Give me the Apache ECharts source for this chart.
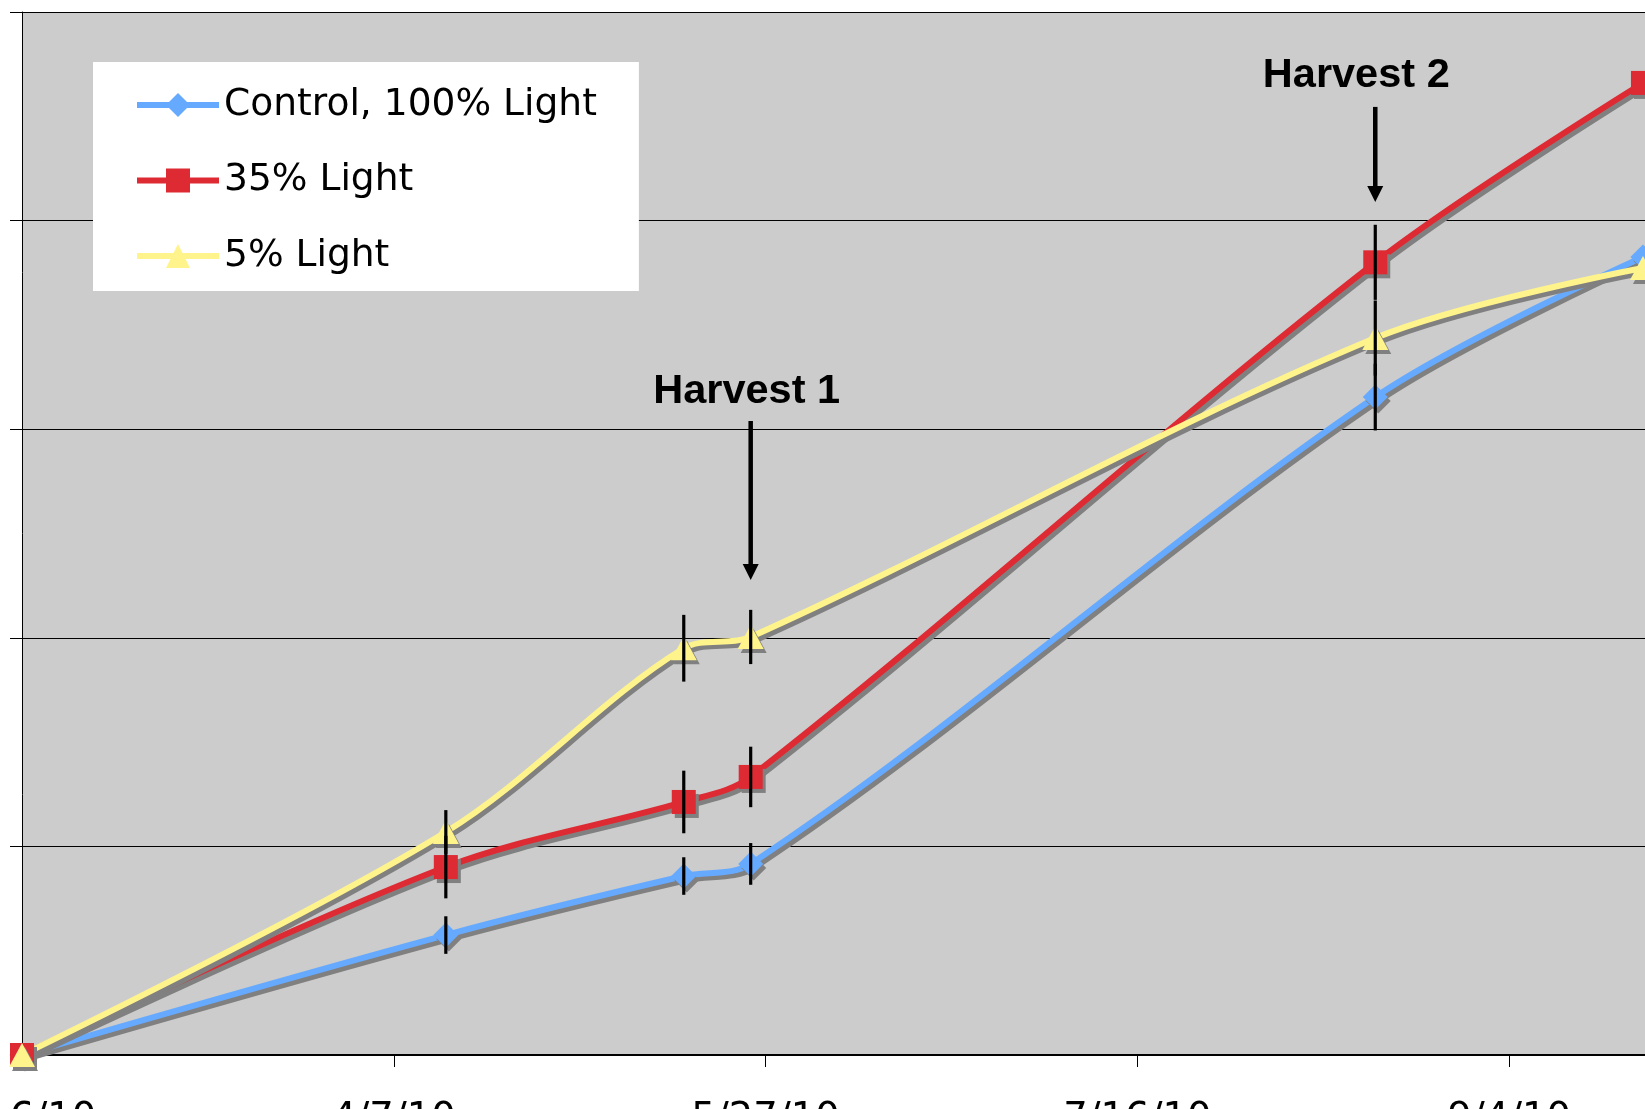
<!DOCTYPE html>
<html>
<head>
<meta charset="utf-8">
<script src="https://cdn.jsdelivr.net/npm/echarts@6/dist/echarts.min.js"></script>
<style>
  html, body { margin: 0; padding: 0; background: #ffffff; }
  #chart { width: 1645px; height: 1109px; }
</style>
</head>
<body>
<div id="chart"></div>
<script>
// ---- data ----
const startDate = '2010-02-16';
const sampleDates = ['2010-02-16', '2010-04-14', '2010-05-16', '2010-05-25', '2010-08-17', '2010-09-22'];
const seriesNames = ['Control, 100% Light', '35% Light', '5% Light'];
const controlValues = [0, 0.575, 0.858, 0.916, 3.154, 3.826];
const light35Values = [0, 0.901, 1.213, 1.333, 3.800, 4.660];
const light5Values  = [0, 1.069, 1.950, 2.004, 3.437, 3.773];
// half-length of the error bars (null = no bar)
const controlErr = [null, 0.09, 0.09, 0.10, 0.16, null];
const light35Err = [null, 0.15, 0.15, 0.145, 0.18, null];
const light5Err  = [null, 0.105, 0.16, 0.13, 0.18, null];
const xTickLabels = ['2/16/10', '4/7/10', '5/27/10', '7/16/10', '9/4/10'];
const harvestDates = ['2010-05-25', '2010-08-17'];
const harvestLabels = ['Harvest 1', 'Harvest 2'];

// ---- helpers ----
const DAY = 86400000;
const dayOf = d => (Date.parse(d) - Date.parse(startDate)) / DAY;
const sampleDays = sampleDates.map(dayOf);

const colors = ['#66aaff', '#dd2a33', '#fff38c'];
const symbols = ['diamond', 'rect', 'triangle'];
const symbolSizes = [[25, 25], [24, 24], [26, 24]];
const valueSets = [controlValues, light35Values, light5Values];
const errSets = [controlErr, light35Err, light5Err];
const SHADOW = '#808080';

// annotation placement in axis units: label centre, arrow top, arrow tip, label x shift (px)
const harvestLayout = [
  { labelY: 3.182, top: 3.039, tip: 2.277, dx: -4 },
  { labelY: 4.694, top: 4.545, tip: 4.089, dx: -19 }
];

const lineSeries = valueSets.map((vals, i) => ({
  name: seriesNames[i],
  type: 'line',
  smooth: 0.33,
  clip: false,
  z: 2,
  symbol: symbols[i],
  symbolSize: symbolSizes[i],
  data: vals.map((v, k) => [sampleDays[k], v]),
  lineStyle: {
    color: colors[i], width: 6,
    shadowColor: SHADOW, shadowBlur: 0, shadowOffsetX: 3, shadowOffsetY: 4
  },
  itemStyle: {
    color: colors[i], borderWidth: 0,
    shadowColor: SHADOW, shadowBlur: 0, shadowOffsetX: 3, shadowOffsetY: 4
  },
  emphasis: { disabled: true }
}));

const errorSeries = valueSets.map((vals, i) => ({
  name: 'err-' + i,
  type: 'custom',
  z: 4,
  clip: false,
  silent: true,
  data: vals.map((v, k) => [sampleDays[k], v, errSets[i][k]]).filter(r => r[2] != null),
  encode: { x: 0, y: 1 },
  renderItem: (params, api) => {
    const x = api.value(0), y = api.value(1), e = api.value(2);
    const a = api.coord([x, y + e]);
    const b = api.coord([x, y - e]);
    return {
      type: 'line',
      shape: { x1: a[0], y1: a[1], x2: b[0], y2: b[1] },
      style: { stroke: '#000000', lineWidth: 3.2 }
    };
  }
}));

const harvestSeries = {
  name: 'harvest',
  type: 'custom',
  z: 5,
  clip: false,
  silent: true,
  data: harvestDates.map((d, i) => [dayOf(d), harvestLayout[i].labelY, i]),
  encode: { x: 0, y: 1 },
  renderItem: (params, api) => {
    const x = api.value(0);
    const idx = api.value(2);
    const L = harvestLayout[idx];
    const label = api.coord([x, L.labelY]);
    const top = api.coord([x, L.top]);
    const tip = api.coord([x, L.tip]);
    const head = 16, half = 8;
    return {
      type: 'group',
      children: [
        {
          type: 'text',
          style: {
            text: harvestLabels[idx],
            x: label[0] + L.dx, y: label[1],
            align: 'center', verticalAlign: 'middle',
            font: 'bold 41.5px "Liberation Sans", Arial, sans-serif',
            fill: '#000000'
          }
        },
        {
          type: 'line',
          shape: { x1: top[0], y1: top[1], x2: tip[0], y2: tip[1] - head + 1 },
          style: { stroke: '#000000', lineWidth: 4.5 }
        },
        {
          type: 'polygon',
          shape: { points: [[tip[0] - half, tip[1] - head], [tip[0] + half, tip[1] - head], [tip[0], tip[1]]] },
          style: { fill: '#000000' }
        }
      ]
    };
  }
};

const chart = echarts.init(document.getElementById('chart'), null, { renderer: 'canvas' });
chart.setOption({
  animation: false,
  backgroundColor: '#ffffff',
  grid: {
    left: 22, top: 12, right: -50, bottom: 54,
    containLabel: false, outerBoundsMode: 'none',
    show: true, backgroundColor: '#cccccc', borderWidth: 0
  },
  legend: {
    data: seriesNames,
    orient: 'vertical',
    left: 93, top: 62,
    backgroundColor: '#ffffff',
    padding: [23, 42, 15, 41],
    itemWidth: 82, itemHeight: 30, itemGap: 35.5,
    textStyle: { fontSize: 37.6, fontFamily: '"DejaVu Sans", Verdana, sans-serif', color: '#000000', lineHeight: 40 },
    lineStyle: { width: 6, shadowColor: 'rgba(0,0,0,0)', shadowBlur: 0, shadowOffsetX: 0, shadowOffsetY: 0 },
    itemStyle: { shadowColor: 'rgba(0,0,0,0)', shadowBlur: 0, shadowOffsetX: 0, shadowOffsetY: 0 },
    selectedMode: false
  },
  xAxis: {
    type: 'value',
    min: 0, max: 225, interval: 50,
    axisLine: { show: true, lineStyle: { color: '#000000', width: 2 } },
    axisTick: { show: true, inside: false, length: 12, lineStyle: { color: '#000000', width: 1 } },
    splitLine: { show: false },
    axisLabel: {
      show: true, margin: 45,
      fontSize: 38.5, fontFamily: '"DejaVu Sans", Verdana, sans-serif', color: '#000000',
      formatter: v => { const k = Math.round(v / 50); return (v % 50 === 0 && xTickLabels[k]) ? xTickLabels[k] : ''; }
    }
  },
  yAxis: {
    type: 'value',
    min: 0, max: 5, interval: 1,
    axisLine: { show: true, lineStyle: { color: '#000000', width: 1 } },
    axisTick: { show: true, inside: false, length: 12, lineStyle: { color: '#000000', width: 1 } },
    axisLabel: { show: false },
    splitLine: { show: true, lineStyle: { color: '#000000', width: 1 } }
  },
  series: [...lineSeries, ...errorSeries, harvestSeries]
});
</script>
</body>
</html>
